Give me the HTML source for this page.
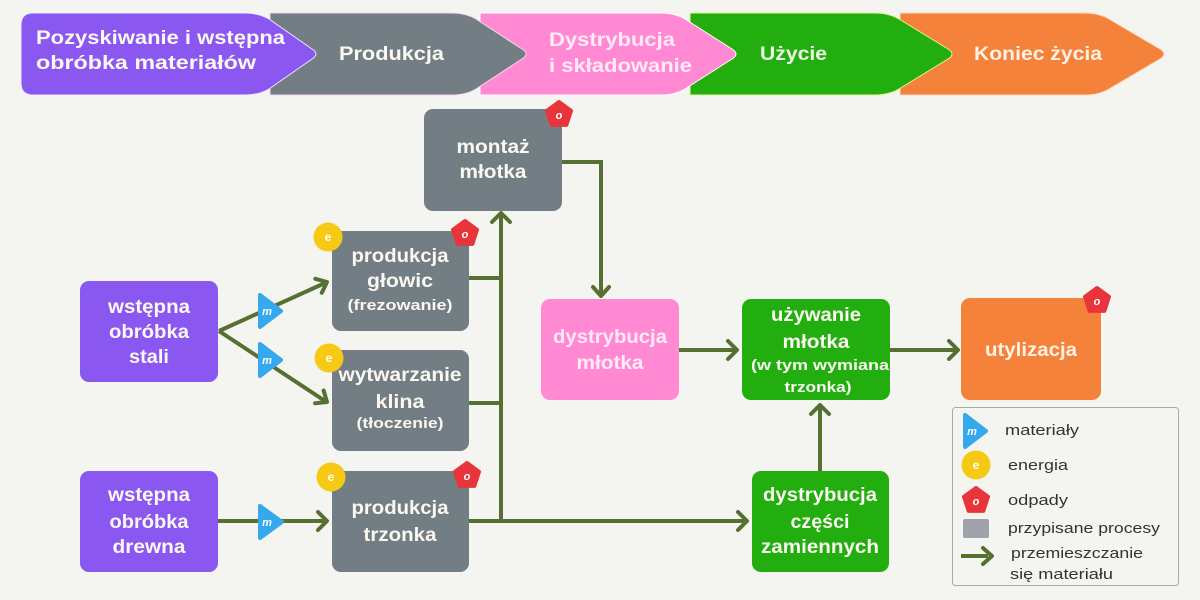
<!DOCTYPE html>
<html><head><meta charset="utf-8"><style>
html,body{margin:0;padding:0;background:#F4F5F1;}
svg{display:block;}
text{font-family:"Liberation Sans",sans-serif;}
.b{font-weight:bold;fill:#FAF8F0;}
.lg{font-size:15px;fill:#333;}
</style></head><body>
<svg width="1200" height="600" viewBox="0 0 1200 600" xmlns="http://www.w3.org/2000/svg">
<rect width="1200" height="600" fill="#F4F5F1"/>

<!-- Banner -->
<path d="M900,13 H1085 Q1099,13 1109,19 L1160,49 Q1168,54 1160,59 L1109,89 Q1099,95 1085,95 H900 Z" fill="#F5823A" stroke="#FBD9C0" stroke-width="1"/>
<path d="M690,13 H875 Q889,13 899,19 L948,49 Q956,54 948,59 L899,89 Q889,95 875,95 H690 Z" fill="#22AE0E" stroke="#E6F59A" stroke-width="1"/>
<path d="M480,13 H661 Q675,13 685,19 L732,49 Q740,54 732,59 L685,89 Q675,95 661,95 H480 Z" fill="#FF8AD3" stroke="#FFF" stroke-width="1"/>
<path d="M270,13 H452 Q466,13 476,19 L522,49 Q530,54 522,59 L476,89 Q466,95 452,95 H270 Z" fill="#737D84" stroke="#F2D8F0" stroke-width="1"/>
<path d="M33,13 H245 Q259,13 269,19 L312,49 Q320,54 312,59 L269,89 Q259,95 245,95 H33 Q21,95 21,83 V25 Q21,13 33,13 Z" fill="#8A58F0" stroke="#F2E6FF" stroke-width="1"/>

<text class="b" x="36" y="44" font-size="19" textLength="249" lengthAdjust="spacingAndGlyphs">Pozyskiwanie i wstępna</text>
<text class="b" x="36" y="69" font-size="19" textLength="220" lengthAdjust="spacingAndGlyphs">obróbka materiałów</text>
<text class="b" x="339" y="60" font-size="19" textLength="105" lengthAdjust="spacingAndGlyphs">Produkcja</text>
<text class="b" x="549" y="46" font-size="19" textLength="126" lengthAdjust="spacingAndGlyphs" style="fill:#FFEAF7">Dystrybucja</text>
<text class="b" x="549" y="72" font-size="19" textLength="143" lengthAdjust="spacingAndGlyphs" style="fill:#FFEAF7">i składowanie</text>
<text class="b" x="760" y="60" font-size="19" textLength="67" lengthAdjust="spacingAndGlyphs" style="fill:#EEF8E6">Użycie</text>
<text class="b" x="974" y="60" font-size="19" textLength="128" lengthAdjust="spacingAndGlyphs" style="fill:#FFF2E4">Koniec życia</text>

<!-- Connectors -->
<g fill="none" stroke="#557030" stroke-width="4" stroke-linecap="butt" stroke-linejoin="miter">
  <path d="M562,162 H601 V294"/>
  <path d="M501,521 V215"/>
  <path d="M469,278 H503"/>
  <path d="M469,403 H503"/>
  <path d="M469,521 H744"/>
  <path d="M219,331 L325,283"/>
  <path d="M219,331 L325,401"/>
  <path d="M218,521 H324"/>
  <path d="M679,350 H734"/>
  <path d="M890,350 H955"/>
  <path d="M820,471 V408"/>
</g>
<g fill="none" stroke="#557030" stroke-width="4" stroke-linecap="round" stroke-linejoin="round">
  <polyline points="593,287 601,296 609,287"/>
  <polyline points="492,222 501,213 510,222"/>
  <polyline points="738,512 747,521 738,530"/>
  <polyline points="315.4,278.8 327,282 321.8,292.8"/>
  <polyline points="323.6,390.5 327,402 315.1,403.3"/>
  <polyline points="318,512 327,521 318,530"/>
  <polyline points="728,341 737,350 728,359"/>
  <polyline points="949,341 958,350 949,359"/>
  <polyline points="811,414 820,405 829,414"/>
</g>

<!-- Nodes -->
<rect x="80" y="281" width="138" height="101" rx="9" fill="#8A58F0"/>
<rect x="80" y="471" width="138" height="101" rx="9" fill="#8A58F0"/>
<rect x="332" y="231" width="137" height="100" rx="9" fill="#737D84"/>
<rect x="332" y="350" width="137" height="101" rx="9" fill="#737D84"/>
<rect x="332" y="471" width="137" height="101" rx="9" fill="#737D84"/>
<rect x="424" y="109" width="138" height="102" rx="9" fill="#737D84"/>
<rect x="541" y="299" width="138" height="101" rx="9" fill="#FF8AD3"/>
<rect x="742" y="299" width="148" height="101" rx="9" fill="#22AE0E"/>
<rect x="752" y="471" width="137" height="101" rx="9" fill="#22AE0E"/>
<rect x="961" y="298" width="140" height="102" rx="9" fill="#F5823A"/>

<g text-anchor="middle">
<text class="b" x="149" y="313" font-size="19" textLength="82" lengthAdjust="spacingAndGlyphs">wstępna</text>
<text class="b" x="149" y="338" font-size="19" textLength="80" lengthAdjust="spacingAndGlyphs">obróbka</text>
<text class="b" x="149" y="363" font-size="19" textLength="40" lengthAdjust="spacingAndGlyphs">stali</text>

<text class="b" x="149" y="501" font-size="19" textLength="82" lengthAdjust="spacingAndGlyphs">wstępna</text>
<text class="b" x="149" y="528" font-size="19" textLength="79" lengthAdjust="spacingAndGlyphs">obróbka</text>
<text class="b" x="149" y="553" font-size="19" textLength="73" lengthAdjust="spacingAndGlyphs">drewna</text>

<text class="b" x="400" y="262" font-size="19" textLength="97" lengthAdjust="spacingAndGlyphs">produkcja</text>
<text class="b" x="400" y="287" font-size="19" textLength="66" lengthAdjust="spacingAndGlyphs">głowic</text>
<text class="b" x="400" y="310" font-size="15" textLength="105" lengthAdjust="spacingAndGlyphs">(frezowanie)</text>

<text class="b" x="400" y="381" font-size="19" textLength="123" lengthAdjust="spacingAndGlyphs">wytwarzanie</text>
<text class="b" x="400" y="408" font-size="19" textLength="49" lengthAdjust="spacingAndGlyphs">klina</text>
<text class="b" x="400" y="428" font-size="15" textLength="87" lengthAdjust="spacingAndGlyphs">(tłoczenie)</text>

<text class="b" x="400" y="514" font-size="19" textLength="97" lengthAdjust="spacingAndGlyphs">produkcja</text>
<text class="b" x="400" y="541" font-size="19" textLength="73" lengthAdjust="spacingAndGlyphs">trzonka</text>

<text class="b" x="493" y="153" font-size="19" textLength="73" lengthAdjust="spacingAndGlyphs">montaż</text>
<text class="b" x="493" y="178" font-size="19" textLength="67" lengthAdjust="spacingAndGlyphs">młotka</text>

<text class="b" x="610" y="343" font-size="19" textLength="114" lengthAdjust="spacingAndGlyphs" style="fill:#FFEAF7">dystrybucja</text>
<text class="b" x="610" y="369" font-size="19" textLength="67" lengthAdjust="spacingAndGlyphs" style="fill:#FFEAF7">młotka</text>

<text class="b" x="816" y="321" font-size="19" textLength="90" lengthAdjust="spacingAndGlyphs">używanie</text>
<text class="b" x="816" y="348" font-size="19" textLength="67" lengthAdjust="spacingAndGlyphs">młotka</text>
<text class="b" x="820" y="370" font-size="15" textLength="138" lengthAdjust="spacingAndGlyphs">(w tym wymiana</text>
<text class="b" x="818" y="392" font-size="15" textLength="67" lengthAdjust="spacingAndGlyphs">trzonka)</text>

<text class="b" x="820" y="501" font-size="19" textLength="114" lengthAdjust="spacingAndGlyphs">dystrybucja</text>
<text class="b" x="820" y="528" font-size="19" textLength="59" lengthAdjust="spacingAndGlyphs">części</text>
<text class="b" x="820" y="553" font-size="19" textLength="118" lengthAdjust="spacingAndGlyphs">zamiennych</text>

<text class="b" x="1031" y="356" font-size="19" textLength="92" lengthAdjust="spacingAndGlyphs" style="fill:#FFF2E4">utylizacja</text>
</g>

<!-- Material triangles -->
<g fill="#35A8EE" stroke="#35A8EE" stroke-width="4" stroke-linejoin="round">
  <polygon points="260,295 281,311 260,327"/>
  <polygon points="260,344 281,360 260,376"/>
  <polygon points="260,506 282,522 260,538"/>
  <polygon points="965,415 986,431 965,447"/>
</g>
<g font-size="11" font-weight="bold" font-style="italic" fill="#fff" text-anchor="middle">
  <text x="267" y="315">m</text>
  <text x="267" y="364">m</text>
  <text x="267" y="526">m</text>
  <text x="972" y="435">m</text>
</g>

<!-- Energy circles -->
<g fill="#F6C915">
  <circle cx="328" cy="237" r="14.5"/>
  <circle cx="329" cy="358" r="14.5"/>
  <circle cx="331" cy="477" r="14.5"/>
  <circle cx="976" cy="465" r="14.5"/>
</g>
<g font-size="12" font-weight="bold" fill="#fff" text-anchor="middle">
  <text x="328" y="241">e</text>
  <text x="329" y="362">e</text>
  <text x="331" y="481">e</text>
  <text x="976" y="469">e</text>
</g>

<!-- Waste pentagons -->
<g fill="#E8343B" stroke="#E8343B" stroke-width="4" stroke-linejoin="round">
  <polygon points="559,102 571,110.7 566.4,124.9 551.6,124.9 547,110.7"/>
  <polygon points="465,221 477,229.7 472.4,243.9 457.6,243.9 453,229.7"/>
  <polygon points="467,463 479,471.7 474.4,485.9 459.6,485.9 455,471.7"/>
  <polygon points="1097,288 1109,296.7 1104.4,310.9 1089.6,310.9 1085,296.7"/>
  <polygon points="976,488 988,496.7 983.4,510.9 968.6,510.9 964,496.7"/>
</g>
<g font-size="11" font-weight="bold" font-style="italic" fill="#fff" text-anchor="middle">
  <text x="559" y="119">o</text>
  <text x="465" y="238">o</text>
  <text x="467" y="480">o</text>
  <text x="1097" y="305">o</text>
  <text x="976" y="505">o</text>
</g>

<!-- Legend -->
<rect x="952.5" y="407.5" width="226" height="178" rx="3" fill="none" stroke="#A8AAA6" stroke-width="1"/>
<rect x="963" y="519" width="26" height="19" rx="2" fill="#9EA2AB"/>
<path d="M961,556 H988" stroke="#557030" stroke-width="4" fill="none"/>
<polyline points="983,548 992,556 983,564" stroke="#557030" stroke-width="4" fill="none" stroke-linecap="round" stroke-linejoin="round"/>
<text class="lg" x="1005" y="435" textLength="74" lengthAdjust="spacingAndGlyphs">materiały</text>
<text class="lg" x="1008" y="470" textLength="60" lengthAdjust="spacingAndGlyphs">energia</text>
<text class="lg" x="1008" y="505" textLength="60" lengthAdjust="spacingAndGlyphs">odpady</text>
<text class="lg" x="1008" y="533" textLength="152" lengthAdjust="spacingAndGlyphs">przypisane procesy</text>
<text class="lg" x="1011" y="558" textLength="132" lengthAdjust="spacingAndGlyphs">przemieszczanie</text>
<text class="lg" x="1010" y="579" textLength="103" lengthAdjust="spacingAndGlyphs">się materiału</text>
</svg>
</body></html>
